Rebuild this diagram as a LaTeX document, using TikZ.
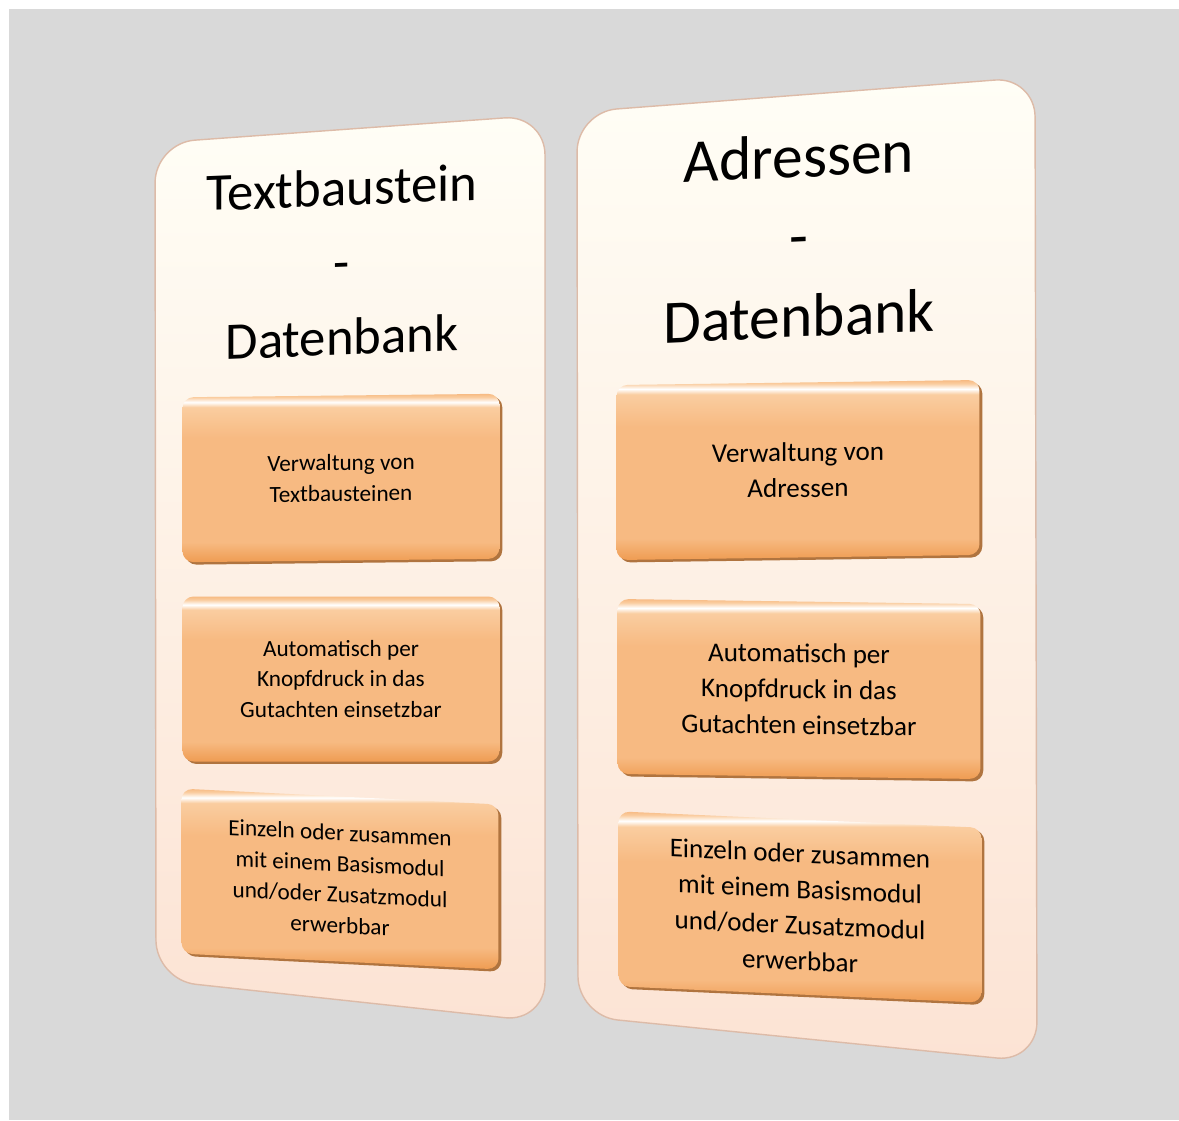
\documentclass[tikz,border=0pt]{standalone}
\usepackage{fontspec}
\setmainfont{Carlito}
\usetikzlibrary{shadows}

\definecolor{bgGrey}{HTML}{D9D9D9}
\definecolor{panelTop}{HTML}{FFFEF6}
\definecolor{panelBottom}{HTML}{FCE3D4}
\definecolor{panelEdge}{HTML}{DDBBA8}
\definecolor{panelShadow}{HTML}{7A706A}
\definecolor{boxTop}{HTML}{FACDA0}
\definecolor{boxMid}{HTML}{F7BA82}
\definecolor{boxBottom}{HTML}{EF9C52}
\definecolor{boxShadow}{HTML}{B0743F}

% orange bar with a light streak near the top
\pgfdeclareverticalshading{boxshade}{100bp}{color(0bp)=(boxBottom); color(25bp)=(boxBottom); color(31bp)=(boxMid); color(62bp)=(boxMid); color(71bp)=(boxTop); color(72.5bp)=(white); color(74bp)=(boxTop); color(75bp)=(boxMid); color(100bp)=(boxMid)}

\tikzstyle{panel} = [rounded corners=0.8cm, top color=panelTop, bottom color=panelBottom, draw=panelEdge, line width=0.8pt]
\tikzstyle{panelshade} = [rounded corners=0.8cm, fill=panelShadow]
\tikzstyle{title} = [align=center, text=black, transform shape]
\tikzstyle{smallitem} = [rectangle, rounded corners=0.22cm, minimum width=6.34cm, minimum height=3.3cm, align=center, shading=boxshade, transform shape, general shadow={fill=boxShadow, shadow xshift=1.6pt, shadow yshift=-1.4pt}, font=\fontsize{13.2}{17.6}\selectfont, text=black]
\tikzstyle{bigitem} = [smallitem, minimum width=7.26cm, minimum height=3.5cm, font=\fontsize{15.4}{20.4}\selectfont]

\begin{document}
\begin{tikzpicture}[x=0.02cm, y=-0.02cm]

\useasboundingbox (0,0) rectangle (1179,1120);
\fill[white] (0,0) rectangle (1179,1120);
\fill[bgGrey] (9,9) rectangle (1179,1120);

% Panel corners
\coordinate (lp-nw) at (155,143);
\coordinate (lp-ne) at (545,115);
\coordinate (lp-se) at (545,1022);
\coordinate (lp-sw) at (156,980);
\coordinate (rp-nw) at (577,112);
\coordinate (rp-ne) at (1035,77);
\coordinate (rp-se) at (1037,1062);
\coordinate (rp-sw) at (578,1016);

% Panels
\fill[panelshade, shift={(3.5,3)}] (lp-nw) -- (lp-ne) -- (lp-se) -- (lp-sw) -- cycle;
\draw[panel] (lp-nw) -- (lp-ne) -- (lp-se) -- (lp-sw) -- cycle;
\fill[panelshade, shift={(3.5,3)}] (rp-nw) -- (rp-ne) -- (rp-se) -- (rp-sw) -- cycle;
\draw[panel] (rp-nw) -- (rp-ne) -- (rp-se) -- (rp-sw) -- cycle;

% Titles
\node (textdb) [title, yslant=0.04, font=\fontsize{30}{42.5}\selectfont] at (342,262) {Textbaustein\\-\\Datenbank};
\node (adrdb) [title, yslant=0.045, font=\fontsize{35}{45.5}\selectfont] at (799,236) {Adressen\\-\\Datenbank};

% Left column
\node (text_verw) [smallitem, yslant=0.011] at (341,478) {Verwaltung von\\Textbausteinen};
\node (text_auto) [smallitem, yslant=0] at (341,679) {Automatisch per\\Knopfdruck in das\\Gutachten einsetzbar};
\node (text_kauf) [smallitem, yslant=-0.05] at (340,879) {Einzeln oder zusammen\\mit einem Basismodul\\und/oder Zusatzmodul\\erwerbbar};

% Right column
\node (adr_verw) [bigitem, yslant=0.014] at (798,470) {Verwaltung von\\Adressen};
\node (adr_auto) [bigitem, yslant=-0.014] at (799,689) {Automatisch per\\Knopfdruck in das\\Gutachten einsetzbar};
\node (adr_kauf) [bigitem, yslant=-0.045] at (800,907) {Einzeln oder zusammen\\mit einem Basismodul\\und/oder Zusatzmodul\\erwerbbar};

\end{tikzpicture}
\end{document}
